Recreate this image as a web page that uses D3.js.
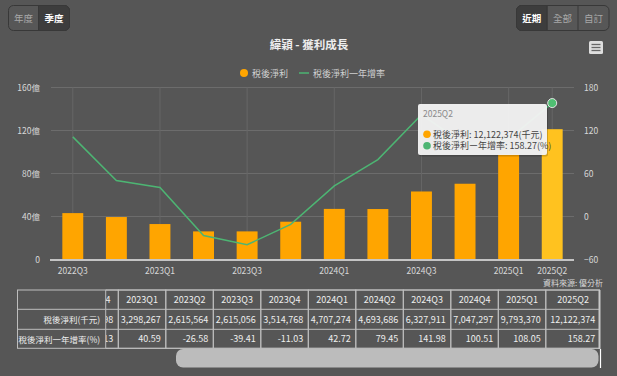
<!DOCTYPE html>
<html><head><meta charset="utf-8">
<script src="https://cdn.jsdelivr.net/npm/d3@7"></script>
<style>
html,body{margin:0;padding:0;background:#565656;}
svg{display:block;font-family:"Noto Sans CJK TC","Noto Sans",sans-serif;}
</style></head>
<body>
<svg id="c" width="617" height="376"></svg>
<script>
// ---- data ----
const quarters = ['2022Q3','2022Q4','2023Q1','2023Q2','2023Q3','2023Q4','2024Q1','2024Q2','2024Q3','2024Q4','2025Q1','2025Q2'];
const netIncome = [4316000, 3950498, 3298267, 2615564, 2615056, 3514768, 4707274, 4693686, 6327911, 7047297, 9793370, 12122374]; // 千元
const yoyGrowth = [111.1, 50.13, 40.59, -26.58, -39.41, -11.03, 42.72, 79.45, 141.98, 100.51, 108.05, 158.27]; // %
const xTickLabels = ['2022Q3','2023Q1','2023Q3','2024Q1','2024Q3','2025Q1','2025Q2'];
const leftTicks = [0, 40, 80, 120, 160];
const rightTicks = [-60, 0, 60, 120, 180];
const seriesNames = ['稅後淨利', '稅後淨利一年增率'];
const rowHeaders = ['稅後淨利(千元)', '稅後淨利一年增率(%)'];
const hoverIndex = 11;

const svg = d3.select('#c');
const orange = '#FFA500', orangeHi = '#FFC21F', green = '#4DB573';

// ---- top buttons ----
function btnGroup(x0, labels, widths, sel) {
  const g = svg.append('g');
  const total = d3.sum(widths);
  g.append('rect').attr('x', x0).attr('y', 5.5).attr('width', total).attr('height', 25).attr('rx', 5)
    .attr('fill', '#575757').attr('stroke', '#383838');
  let x = x0;
  labels.forEach((l, i) => {
    if (i === sel) {
      const r = 5, w = widths[i], y = 5.5, h = 25;
      const left = i === 0, right = i === labels.length - 1;
      const p = d3.path();
      p.moveTo(x + (left ? r : 0), y);
      p.lineTo(x + w - (right ? r : 0), y);
      if (right) p.arcTo(x + w, y, x + w, y + r, r);
      p.lineTo(x + w, y + h - (right ? r : 0));
      if (right) p.arcTo(x + w, y + h, x + w - r, y + h, r);
      p.lineTo(x + (left ? r : 0), y + h);
      if (left) p.arcTo(x, y + h, x, y + h - r, r);
      p.lineTo(x, y + (left ? r : 0));
      if (left) p.arcTo(x, y, x + r, y, r);
      p.closePath();
      g.append('path').attr('d', p.toString()).attr('fill', '#3d3d3d').attr('stroke', '#383838');
    }
    if (i > 0) g.append('line').attr('x1', x).attr('x2', x).attr('y1', 5.5).attr('y2', 30.5).attr('stroke', '#383838');
    g.append('text').attr('x', x + widths[i] / 2).attr('y', 21.5).attr('text-anchor', 'middle')
      .attr('font-size', 9.5).attr('fill', i === sel ? '#ffffff' : '#a8a8a8').attr('font-weight', i === sel ? 'bold' : 'normal').text(l);
    x += widths[i];
  });
}
btnGroup(8.5, ['年度', '季度'], [30, 31], 1);
btnGroup(516.5, ['近期', '全部', '自訂'], [30.5, 31, 31], 0);

// ---- title ----
svg.append('text').attr('x', 309).attr('y', 49).attr('text-anchor', 'middle').attr('font-size', 11.5)
  .attr('font-weight', 'bold').attr('fill', '#eeeeee').text('緯穎 - 獲利成長');

// menu icon
const mi = svg.append('g');
mi.append('rect').attr('x', 589).attr('y', 41).attr('width', 14).attr('height', 13).attr('rx', 1.5).attr('fill', '#dedede');
[44.5, 47.5, 50.5].forEach(y => mi.append('line').attr('x1', 591.5).attr('x2', 600.5).attr('y1', y).attr('y2', y).attr('stroke', '#666').attr('stroke-width', 1.3));

// ---- legend ----
const lg = svg.append('g').attr('font-size', 9);
lg.append('circle').attr('cx', 244).attr('cy', 73).attr('r', 4).attr('fill', orange);
lg.append('text').attr('x', 252).attr('y', 76.5).attr('fill', '#d0d0d0').text(seriesNames[0]);
lg.append('line').attr('x1', 299).attr('x2', 309).attr('y1', 73).attr('y2', 73).attr('stroke', green).attr('stroke-width', 1.5);
lg.append('text').attr('x', 313).attr('y', 76.5).attr('fill', '#d0d0d0').text(seriesNames[1]);

// ---- scales ----
const x = d3.scaleBand().domain(quarters).range([51, 574]).paddingInner(0.52).paddingOuter(0.26);
const cx = q => x(q) + x.bandwidth() / 2;
const yL = d3.scaleLinear().domain([0, 160]).range([259.5, 87.5]);
const yR = d3.scaleLinear().domain([-60, 180]).range([259.5, 87.5]);

// grid
svg.append('g').selectAll('line').data(leftTicks.slice(1)).join('line')
  .attr('x1', 51).attr('x2', 574).attr('y1', d => yL(d)).attr('y2', d => yL(d))
  .attr('stroke', '#6c6c6c').attr('stroke-width', 1);
svg.append('g').selectAll('line').data(xTickLabels).join('line')
  .attr('x1', d => cx(d)).attr('x2', d => cx(d)).attr('y1', 87.5).attr('y2', 259.5)
  .attr('stroke', '#666666').attr('stroke-width', 1);

// axes
const axL = svg.append('g').attr('transform', 'translate(51,0)')
  .call(d3.axisLeft(yL).tickValues(leftTicks).tickSize(0).tickPadding(11).tickFormat(d => d === 0 ? '0' : d + '億'));
const axR = svg.append('g').attr('transform', 'translate(574,0)')
  .call(d3.axisRight(yR).tickValues(rightTicks).tickSize(0).tickPadding(10).tickFormat(d3.format('d')));
[axL, axR].forEach(a => {
  a.select('.domain').remove();
  a.selectAll('text').attr('font-size', 8.5).attr('fill', '#d8d8d8').attr('font-family', '"Noto Sans CJK TC","Noto Sans",sans-serif');
});

// bars
svg.append('g').selectAll('rect').data(quarters).join('rect')
  .attr('x', d => x(d)).attr('width', x.bandwidth())
  .attr('y', (d, i) => yL(netIncome[i] / 1e5)).attr('height', (d, i) => yL(0) - yL(netIncome[i] / 1e5))
  .attr('fill', (d, i) => i === hoverIndex ? orangeHi : orange);

// x axis
const axB = svg.append('g').attr('transform', 'translate(0,260)')
  .call(d3.axisBottom(x).tickValues(xTickLabels).tickSize(0).tickPadding(8));
axB.select('.domain').remove();
axB.selectAll('text').attr('font-size', 8.5).attr('fill', '#d8d8d8').attr('font-family', '"Noto Sans CJK TC","Noto Sans",sans-serif');
svg.append('line').attr('x1', 50).attr('x2', 574).attr('y1', 260).attr('y2', 260).attr('stroke', '#c4c4c4').attr('stroke-width', 2);

// line
const line = d3.line().x(d => cx(d[0])).y(d => yR(d[1]));
svg.append('path').datum(quarters.map((q, i) => [q, yoyGrowth[i]])).attr('d', line)
  .attr('fill', 'none').attr('stroke', green).attr('stroke-width', 1.5);

// hover marker
svg.append('circle').attr('cx', cx(quarters[hoverIndex])).attr('cy', yR(yoyGrowth[hoverIndex])).attr('r', 4.5)
  .attr('fill', '#4fbf72').attr('stroke', '#e6e6e6').attr('stroke-width', 1);

// tooltip
const fmt = d3.format(',');
const tt = svg.append('g');
tt.append('rect').attr('x', 419).attr('y', 105.5).attr('width', 129).attr('height', 51).attr('fill', 'rgba(0,0,0,0.18)').attr('rx', 2);
tt.append('rect').attr('x', 418).attr('y', 104).attr('width', 129).attr('height', 51).attr('fill', 'rgba(246,246,246,0.95)').attr('rx', 2);
tt.append('text').attr('x', 423).attr('y', 117).attr('font-size', 8.5).attr('fill', '#8a8a8a').text(quarters[hoverIndex]);
tt.append('circle').attr('cx', 427).attr('cy', 134.3).attr('r', 3.8).attr('fill', orange);
tt.append('text').attr('x', 433).attr('y', 137.5).attr('font-size', 9).attr('fill', '#444')
  .text(seriesNames[0] + ': ' + fmt(netIncome[hoverIndex]) + '(千元)');
tt.append('circle').attr('cx', 427).attr('cy', 145.7).attr('r', 3.8).attr('fill', green);
tt.append('text').attr('x', 433).attr('y', 149).attr('font-size', 9).attr('fill', '#444')
  .text('稅後淨利ー年增率: ' + yoyGrowth[hoverIndex].toFixed(2) + '(%)');

// source
svg.append('text').attr('x', 603).attr('y', 285.5).attr('text-anchor', 'end').attr('font-size', 8)
  .attr('fill', '#d8d8d8').text('資料來源: 優分析');

// ---- table ----
const tTop = 290, rowH = [19.3, 20, 19];
const rowY = [tTop, tTop + rowH[0], tTop + rowH[0] + rowH[1], tTop + rowH[0] + rowH[1] + rowH[2]];
const colW = i => i === quarters.length - 1 ? 54.5 : 47.5;
const colStart = [];
let cxp = 118.3 - 2 * 47.5;
quarters.forEach((q, i) => { colStart.push(cxp); cxp += colW(i); });
const tableRight = 600, headLeft = 17.5, headRight = 105.7;
const borderC = '#bdbdbd';

svg.append('clipPath').attr('id', 'tclip').append('rect').attr('x', headRight).attr('y', 280).attr('width', tableRight - headRight).attr('height', 80);
const tg = svg.append('g').attr('clip-path', 'url(#tclip)').attr('font-size', 9);
quarters.forEach((q, i) => {
  const x0 = colStart[i], w = colW(i);
  if (x0 + w <= headRight) return; // scrolled fully out of view
  tg.append('rect').attr('x', x0).attr('y', rowY[0]).attr('width', w).attr('height', rowY[3] - rowY[0])
    .attr('fill', 'none').attr('stroke', borderC).attr('stroke-width', 1);
  tg.append('text').attr('x', x0 + w / 2).attr('y', rowY[0] + 13.3).attr('text-anchor', 'middle').attr('fill', '#eeeeee').text(q);
  tg.append('text').attr('x', x0 + w - 5).attr('y', rowY[1] + 13.5).attr('text-anchor', 'end').attr('fill', '#eeeeee').text(fmt(netIncome[i]));
  tg.append('text').attr('x', x0 + w - 5).attr('y', rowY[2] + 13).attr('text-anchor', 'end').attr('fill', '#eeeeee').text(yoyGrowth[i].toFixed(2));
});
tg.selectAll('line.h').data(rowY).join('line').attr('x1', headRight).attr('x2', tableRight).attr('y1', d => d).attr('y2', d => d)
  .attr('stroke', borderC);

// sticky header column
const hg = svg.append('g').attr('font-size', 8.5);
hg.append('rect').attr('x', headLeft).attr('y', rowY[0]).attr('width', headRight - headLeft).attr('height', rowY[3] - rowY[0])
  .attr('fill', '#565656').attr('stroke', borderC);
[1, 2].forEach(r => hg.append('line').attr('x1', headLeft).attr('x2', headRight).attr('y1', rowY[r]).attr('y2', rowY[r]).attr('stroke', borderC));
rowHeaders.forEach((h, r) => hg.append('text').attr('x', headRight - 5.5).attr('y', rowY[r + 1] + 13.3)
  .attr('text-anchor', 'end').attr('fill', '#eeeeee').text(h));

// right edge + scrollbar
svg.append('line').attr('x1', 599.5).attr('x2', 599.5).attr('y1', rowY[0]).attr('y2', 349).attr('stroke', '#c8c8c8').attr('stroke-width', 2);
svg.append('rect').attr('x', 176).attr('y', 349).attr('width', 422.5).attr('height', 18.5).attr('rx', 7).attr('fill', '#bcbcbc');
svg.append('line').attr('x1', 600.5).attr('x2', 600.5).attr('y1', 349).attr('y2', 368).attr('stroke', '#ffffff').attr('stroke-width', 1.2);
</script>
</body></html>
